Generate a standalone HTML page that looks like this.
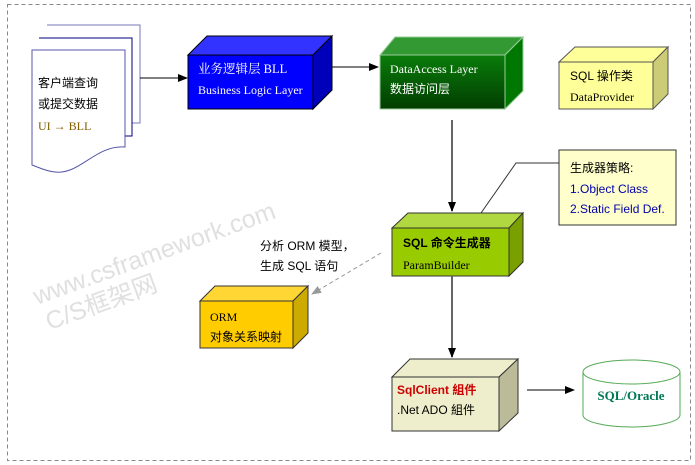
<!DOCTYPE html>
<html><head><meta charset="utf-8"><style>
body{margin:0;background:#fff}
svg{display:block}
text{font-family:"Liberation Serif","Noto Serif CJK SC",serif;font-size:12px}
.s{font-family:"Liberation Sans","Noto Sans CJK SC",sans-serif}
</style></head><body>
<svg width="695" height="465" viewBox="0 0 695 465" xmlns="http://www.w3.org/2000/svg">
<defs>
<marker id="a" markerWidth="10" markerHeight="8" refX="9" refY="4" orient="auto" markerUnits="userSpaceOnUse"><path d="M0,0L10,4L0,8z" fill="#000"/></marker>
<marker id="g" markerWidth="10" markerHeight="8" refX="9" refY="4" orient="auto" markerUnits="userSpaceOnUse"><path d="M0,0L10,4L0,8z" fill="#999"/></marker>
<linearGradient id="dg" x1="0" y1="0" x2="0" y2="1"><stop offset="0" stop-color="#0a7d0a"/><stop offset="1" stop-color="#013d01"/></linearGradient>
</defs>
<rect x="7.5" y="4.5" width="683" height="456" fill="none" stroke="#888" stroke-dasharray="4,3"/>
<g transform="rotate(-20 37 305)">
<text x="37" y="305" class="s" style="font-size:25px" fill="#e0e0e0">www.csframework.com</text>
<text x="40" y="333" class="s" style="font-size:25px" fill="#e0e0e0">C/S框架网</text>
</g>
<!-- documents -->
<path d="M47,25H140V123H132" fill="#fff" stroke="#7777bb"/>
<path d="M39,38H132V136H125" fill="#fff" stroke="#000080"/>
<path d="M32,50H125V147C95,145 80,175 55,172C45,171 38,167 32,165Z" fill="#fff" stroke="#5555aa"/>
<text x="38" y="87" class="s" style="font-size:12px">客户端查询</text>
<text x="38" y="108" class="s" style="font-size:12px">或提交数据</text>
<text x="38" y="130" style="font-size:12px" fill="#806000">UI → BLL</text>
<line x1="140" y1="78" x2="187" y2="78" stroke="#000" marker-end="url(#a)"/>
<!-- BLL -->
<path d="M188,55L207,36H332L313,55Z" fill="#3333ff" stroke="#000"/>
<path d="M313,55L332,36V90L313,109Z" fill="#0000bb" stroke="#000"/>
<rect x="188" y="55" width="125" height="54" fill="#0000ff" stroke="#000"/>
<text x="198" y="73" fill="#fff" style="font-size:12.5px">业务逻辑层  BLL</text>
<text x="198" y="94" fill="#fff" style="font-size:12px">Business Logic Layer</text>
<line x1="332" y1="67" x2="378" y2="67" stroke="#000" marker-end="url(#a)"/>
<!-- DAL -->
<path d="M380,55L395,37H523L505,55Z" fill="#339933" stroke="#9c9"/>
<path d="M505,55L523,37V91L505,109Z" fill="#007700" stroke="#9c9"/>
<rect x="380" y="55" width="125" height="54" fill="url(#dg)" stroke="#9c9"/>
<text x="390" y="73" fill="#fff" style="font-size:12px">DataAccess Layer</text>
<text x="390" y="93" fill="#fff" class="s" style="font-size:12px">数据访问层</text>
<!-- SQL 操作类 -->
<path d="M559,62L575,47H668L653,62Z" fill="#ffff99" stroke="#555"/>
<path d="M653,62L668,47V94L653,109Z" fill="#cccc77" stroke="#555"/>
<rect x="559" y="62" width="94" height="47" fill="#ffff99" stroke="#555"/>
<text x="570" y="80" class="s" style="font-size:12px">SQL 操作类</text>
<text x="570" y="101" style="font-size:12px">DataProvider</text>
<line x1="452" y1="120" x2="452" y2="211" stroke="#666" stroke-width="2" marker-end="url(#a)"/>
<!-- note -->
<polyline points="559,163 516,163 481,213" fill="none" stroke="#333"/>
<rect x="559" y="150" width="117" height="75" fill="#ffffcc" stroke="#333"/>
<text x="570" y="172" class="s" style="font-size:12px">生成器策略:</text>
<text x="570" y="193" class="s" style="font-size:12px" fill="#0000aa">1.Object Class</text>
<text x="570" y="213" class="s" style="font-size:12px" fill="#0000aa">2.Static Field Def.</text>
<!-- SQL gen -->
<path d="M392,228L408,213H523L509,228Z" fill="#b0d840" stroke="#333"/>
<path d="M509,228L523,213V262L509,276Z" fill="#7aa000" stroke="#333"/>
<rect x="392" y="228" width="117" height="48" fill="#99cc00" stroke="#333"/>
<text x="403" y="247" class="s" style="font-size:12px;font-weight:bold">SQL 命令生成器</text>
<text x="403" y="269" style="font-size:12px">ParamBuilder</text>
<line x1="381" y1="253" x2="312" y2="294" stroke="#999" stroke-dasharray="4,3" marker-end="url(#g)"/>
<text x="260" y="250" class="s" style="font-size:12px">分析 ORM 模型，</text>
<text x="260" y="270" class="s" style="font-size:12px">生成 SQL 语句</text>
<!-- ORM -->
<path d="M200,301L215,286H308L293,301Z" fill="#ffd633" stroke="#333"/>
<path d="M293,301L308,286V333L293,348Z" fill="#ccaa00" stroke="#333"/>
<rect x="200" y="301" width="93" height="47" fill="#ffcc00" stroke="#333"/>
<text x="210" y="321" style="font-size:12px">ORM</text>
<text x="210" y="341" class="s" style="font-size:12px">对象关系映射</text>
<line x1="452" y1="276" x2="452" y2="357" stroke="#666" stroke-width="2" marker-end="url(#a)"/>
<!-- SqlClient -->
<path d="M392,377L410,359H518L499,377Z" fill="#eeeecc" stroke="#333"/>
<path d="M499,377L518,359V413L499,431Z" fill="#bbbb99" stroke="#333"/>
<rect x="392" y="377" width="107" height="54" fill="#eeeecc" stroke="#333"/>
<text x="397" y="394" class="s" style="font-size:12px;font-weight:bold" fill="#cc0000">SqlClient 組件</text>
<text x="397" y="414" class="s" style="font-size:12px">.Net ADO 組件</text>
<line x1="527" y1="390" x2="574" y2="390" stroke="#000" marker-end="url(#a)"/>
<!-- cylinder -->
<path d="M583,372V415A48.5,12 0 0 0 680,415V372" fill="#fff" stroke="#55aa55"/>
<ellipse cx="631.5" cy="372" rx="48.5" ry="12" fill="#fff" stroke="#55aa55"/>
<text x="631" y="400" text-anchor="middle" style="font-size:13px;font-weight:bold" fill="#007755">SQL/Oracle</text>
</svg>
</body></html>
